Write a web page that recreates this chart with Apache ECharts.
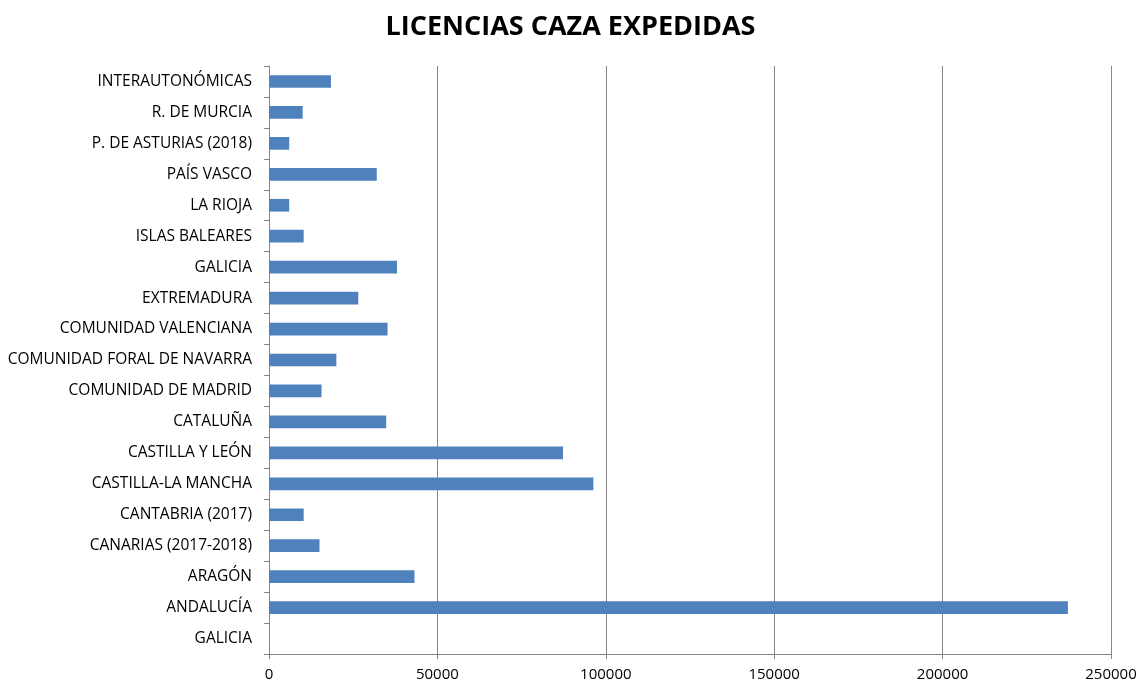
<!DOCTYPE html>
<html>
<head>
<meta charset="utf-8">
<script src="https://cdn.jsdelivr.net/npm/echarts@6/dist/echarts.min.js"></script>
<style>
  html, body { margin: 0; padding: 0; background: #fff; }
  #chart { width: 1141px; height: 682px; }
</style>
</head>
<body>
<div id="chart"></div>
<script>
  // categorías (de abajo a arriba)
  var regiones = [
    'GALICIA', 'ANDALUCÍA', 'ARAGÓN', 'CANARIAS (2017-2018)', 'CANTABRIA (2017)',
    'CASTILLA-LA MANCHA', 'CASTILLA Y LEÓN', 'CATALUÑA', 'COMUNIDAD DE MADRID',
    'COMUNIDAD FORAL DE NAVARRA', 'COMUNIDAD VALENCIANA', 'EXTREMADURA', 'GALICIA',
    'ISLAS BALEARES', 'LA RIOJA', 'PAÍS VASCO', 'P. DE ASTURIAS (2018)',
    'R. DE MURCIA', 'INTERAUTONÓMICAS'
  ];
  // licencias expedidas
  var licencias = [
    null, 237200, 43200, 15000, 10300,
    96300, 87300, 34800, 15600,
    20000, 35200, 26500, 38000,
    10300, 6000, 32000, 6000,
    10000, 18400
  ];
  var ejeX = { min: 0, max: 250000, interval: 50000 };

  var chart = echarts.init(document.getElementById('chart'));
  var font = 'Open Sans, Noto Sans, sans-serif';

  chart.setOption({
    animation: false,
    title: {
      text: 'LICENCIAS CAZA EXPEDIDAS',
      left: 'center',
      top: 9,
      textStyle: { fontFamily: font, fontSize: 27, fontWeight: 'bold', color: '#000' }
    },
    grid: { left: 269, right: 30, top: 66, bottom: 28, containLabel: false },
    xAxis: {
      type: 'value',
      min: ejeX.min,
      max: ejeX.max,
      interval: ejeX.interval,
      axisLine: { show: true, lineStyle: { color: '#868686' } },
      axisTick: { show: true, length: 5, lineStyle: { color: '#868686' } },
      splitLine: { show: true, lineStyle: { color: '#868686' } },
      axisLabel: {
        fontFamily: font, fontSize: 15, color: '#000', margin: 13,
        formatter: function (v) { return String(v); }
      }
    },
    yAxis: {
      type: 'category',
      data: regiones,
      axisLine: { show: true, lineStyle: { color: '#868686' } },
      axisTick: { show: true, length: 5, lineStyle: { color: '#868686' } },
      axisLabel: { fontFamily: font, fontSize: 15.5, color: '#000', margin: 17, interval: 0 }
    },
    series: [{
      type: 'bar',
      data: licencias,
      barCategoryGap: '59%',
      itemStyle: { color: '#4F81BD' }
    }]
  });
</script>
</body>
</html>
